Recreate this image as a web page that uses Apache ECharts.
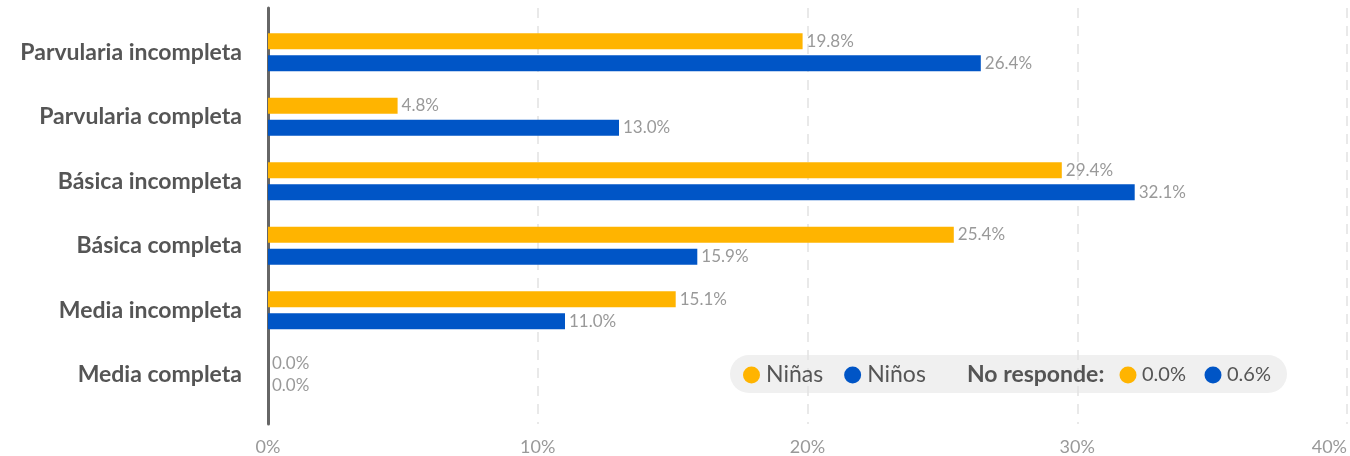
<!DOCTYPE html>
<html>
<head>
<meta charset="utf-8">
<script src="https://cdn.jsdelivr.net/npm/echarts@6/dist/echarts.min.js"></script>
<style>html,body{margin:0;padding:0;background:#fff;}#chart{width:1350px;height:456px;}</style>
</head>
<body>
<div id="chart"></div>
<script>
const categories = ['Parvularia incompleta', 'Parvularia completa', 'Básica incompleta', 'Básica completa', 'Media incompleta', 'Media completa'];
const ninas = [19.8, 4.8, 29.4, 25.4, 15.1, 0.0];
const ninos = [26.4, 13.0, 32.1, 15.9, 11.0, 0.0];
const seriesNames = ['Niñas', 'Niños'];
const noResponde = [0.0, 0.6];
const xTicks = [0, 10, 20, 30, 40];

const ORANGE = '#FFB400';
const BLUE = '#0055C6';
const FONT = 'Lato';

const chart = echarts.init(document.getElementById('chart'), null, {renderer: 'canvas'});
const fmt = v => v.toFixed(1) + '%';
const labelCfg = {show: true, position: 'right', distance: 4, color: '#999', fontSize: 17, fontFamily: FONT, formatter: p => fmt(p.value)};

chart.setOption({
  animation: false,
  textStyle: {fontFamily: FONT},
  grid: [
    {left: 268, width: 1080, top: 20, height: 387},
    {left: 268, width: 1080, top: 8, height: 416}
  ],
  xAxis: [
    {gridIndex: 0, type: 'value', min: xTicks[0], max: xTicks[xTicks.length - 1], interval: 10, show: false},
    {gridIndex: 1, type: 'value', min: xTicks[0], max: xTicks[xTicks.length - 1], interval: 10,
     axisLine: {show: false}, axisTick: {show: false},
     splitLine: {show: true, lineStyle: {color: '#e2e2e2', width: 1.5, type: [10, 8]}},
     axisLabel: {formatter: '{value}%', color: '#999', fontSize: 18, fontFamily: FONT, margin: 14, alignMaxLabel: 'right'}}
  ],
  yAxis: [
    {gridIndex: 0, type: 'category', data: categories, inverse: true,
     axisLine: {show: false}, axisTick: {show: false}, splitLine: {show: false},
     axisLabel: {color: '#555', fontSize: 23, fontWeight: 'bold', fontFamily: FONT, margin: 26}},
    {gridIndex: 1, type: 'value', min: 0, max: 1, axisLabel: {show: false}, axisTick: {show: false}, splitLine: {show: false},
     axisLine: {show: true, lineStyle: {color: '#666', width: 3}}}
  ],
  legend: {
    data: seriesNames, left: 743, top: 363, padding: 0, icon: 'circle', itemWidth: 17, itemHeight: 17, itemGap: 21,
    textStyle: {color: '#555', fontSize: 23, fontFamily: FONT, lineHeight: 24, padding: [0, 0, 0, 1]}, z: 10
  },
  graphic: [
    {type: 'rect', shape: {x: 730, y: 355, width: 557, height: 38, r: 19}, style: {fill: '#f0f0f0'}, z: 0, silent: true},
    {type: 'text', x: 967, y: 375, style: {text: 'No responde:', fill: '#555', font: 'bold 23px Lato', textVerticalAlign: 'middle'}, z: 10},
    {type: 'circle', shape: {cx: 1128, cy: 375, r: 8.5}, style: {fill: ORANGE}, z: 10},
    {type: 'text', x: 1142, y: 375, style: {text: fmt(noResponde[0]), fill: '#555', font: '20px Lato', textVerticalAlign: 'middle'}, z: 10},
    {type: 'circle', shape: {cx: 1213, cy: 375, r: 8.5}, style: {fill: BLUE}, z: 10},
    {type: 'text', x: 1227, y: 375, style: {text: fmt(noResponde[1]), fill: '#555', font: '20px Lato', textVerticalAlign: 'middle'}, z: 10}
  ],
  series: [
    {name: seriesNames[0], type: 'bar', xAxisIndex: 0, yAxisIndex: 0, data: ninas, barWidth: 16, barGap: '37%',
     itemStyle: {color: ORANGE}, label: labelCfg},
    {name: seriesNames[1], type: 'bar', xAxisIndex: 0, yAxisIndex: 0, data: ninos, barWidth: 16, barGap: '37%',
     itemStyle: {color: BLUE}, label: labelCfg}
  ]
});
</script>
</body>
</html>
